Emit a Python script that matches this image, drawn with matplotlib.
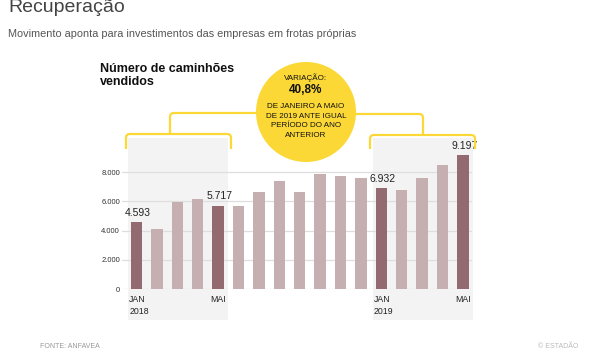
import matplotlib
matplotlib.use("Agg")
import matplotlib.pyplot as plt
from matplotlib.patches import Rectangle, Circle, PathPatch
from matplotlib.path import Path

# ---- data ----
months = ["JAN 2018", "FEV", "MAR", "ABR", "MAI", "JUN", "JUL", "AGO", "SET", "OUT", "NOV", "DEZ",
          "JAN 2019", "FEV", "MAR", "ABR", "MAI"]
sales = [4593, 4100, 5980, 6180, 5717, 5700, 6620, 7420, 6660, 7900, 7720, 7580,
         6932, 6780, 7600, 8470, 9197]
highlight = [0, 4, 12, 16]
value_labels = {0: "4.593", 4: "5.717", 12: "6.932", 16: "9.197"}
yticks = [0, 2000, 4000, 6000, 8000]
ytick_labels = ["0", "2.000", "4.000", "6.000", "8.000"]
period_ranges = [(0, 4), (12, 16)]
xlabels = [(0, "JAN\n2018"), (4, "MAI"), (12, "JAN\n2019"), (16, "MAI")]

DARK = "#926a70"
LIGHT = "#c6afb1"
YELLOW = "#fbd835"
FONT = ["Liberation Sans", "DejaVu Sans"]
plt.rcParams["font.family"] = FONT

W, H = 591, 350
fig = plt.figure(figsize=(W / 100, H / 100), dpi=100)

# main axes (pixel geometry -> figure fraction)
base_px, top_px = 289, 289 - 145.9
ax = fig.add_axes([122 / W, (H - base_px) / H, 350 / W, (base_px - top_px) / H])
ax.set_xlim(-0.71, 16.45)
ax.set_ylim(0, 10000)
for s in ax.spines.values():
    s.set_visible(False)
ax.set_facecolor("none")

# shaded periods
for a, b in period_ranges:
    ax.add_patch(Rectangle((a - 0.42, -2125), (b - a) + 0.91, 12475,
                           facecolor="#f3f3f3", edgecolor="none", zorder=0, clip_on=False))

# gridlines
for t in yticks:
    ax.axhline(t, color="#dedede", lw=0.9, zorder=0.5)

colors = [DARK if i in highlight else LIGHT for i in range(len(sales))]
ax.bar(range(len(sales)), sales, width=0.56, color=colors, zorder=2)

for i, txt in value_labels.items():
    ax.annotate(txt, (i, sales[i]), xytext=(1, 3), textcoords="offset points",
                ha="center", va="bottom", fontsize=7.5, color="#222", zorder=3)

ax.set_yticks(yticks)
ax.set_yticklabels(ytick_labels, fontsize=5.5, color="#333")
ax.tick_params(axis="y", length=0, pad=1.5)
ax.set_xticks([])

for i, txt in xlabels:
    ax.text(i - 0.36, -400, txt, ha="left", va="top", fontsize=6.3, color="#222",
            linespacing=1.45, clip_on=False)

# overlay axes in pixel coords
ov = fig.add_axes([0, 0, 1, 1])
ov.set_xlim(0, W)
ov.set_ylim(H, 0)
ov.axis("off")
ov.set_facecolor("none")


def rounded(points, r=4):
    verts, codes = [points[0]], [Path.MOVETO]
    for k in range(1, len(points) - 1):
        p0, p1, p2 = points[k - 1], points[k], points[k + 1]

        def toward(a, b, d):
            dx, dy = b[0] - a[0], b[1] - a[1]
            L = (dx * dx + dy * dy) ** 0.5
            return (a[0] + dx / L * d, a[1] + dy / L * d)
        verts += [toward(p1, p0, r), p1, toward(p1, p2, r)]
        codes += [Path.LINETO, Path.CURVE3, Path.CURVE3]
    verts.append(points[-1])
    codes.append(Path.LINETO)
    return Path(verts, codes)


for pts in [
    [(126, 149), (126, 134), (231, 134), (231, 149)],
    [(170, 134), (170, 113), (262, 113)],
    [(370, 149), (370, 135), (475, 135), (475, 149)],
    [(350, 114), (423, 114), (423, 135)],
]:
    ov.add_patch(PathPatch(rounded(pts), facecolor="none", edgecolor=YELLOW, lw=1.6,
                           capstyle="butt"))

ov.add_patch(Circle((306, 112), 50, facecolor=YELLOW, edgecolor="none", zorder=3))
ov.text(306, 78, "VARIAÇÃO:", ha="center", va="center", fontsize=5.8, color="#111", zorder=4)
ov.text(306, 90, "40,8%", ha="center", va="center", fontsize=8.5, weight="bold",
        color="#111", zorder=4)
ov.text(306, 121, "DE JANEIRO A MAIO\nDE 2019 ANTE IGUAL\nPERÍODO DO ANO\nANTERIOR",
        ha="center", va="center", fontsize=5.8, color="#111", linespacing=1.5, zorder=4)

# titles
ov.text(8, 12, "Recuperação", ha="left", va="baseline", fontsize=14, color="#444")
ov.text(8, 37, "Movimento aponta para investimentos das empresas em frotas próprias",
        ha="left", va="baseline", fontsize=7.8, color="#555")
ov.text(100, 85, "Número de caminhões\nvendidos", ha="left", va="baseline", fontsize=9,
        weight="bold", color="#111", linespacing=1.15)

# footer
ov.text(40, 348, "FONTE: ANFAVEA", ha="left", va="baseline", fontsize=5, color="#999")
ov.text(578, 348, "© ESTADÃO", ha="right", va="baseline", fontsize=5, color="#bbb")

fig.savefig("out.png", dpi=100)
